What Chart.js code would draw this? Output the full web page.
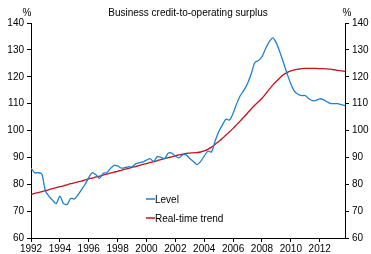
<!DOCTYPE html>
<html lang="en">
<head>
<meta charset="UTF-8">
<title>Business credit-to-operating surplus</title>
<script src="https://cdn.jsdelivr.net/npm/chart.js@4.4.0/dist/chart.umd.min.js"></script>
<style>
  html, body { margin: 0; padding: 0; background: #fff; }
  #wrap { width: 371px; height: 254px; }
</style>
</head>
<body>
<div id="wrap"><canvas id="myChart"></canvas></div>
<script>
// quarterly data, first point = 1992 Q1
const startYear = 1992;
const level = [
  86.0, 84.3, 84.3, 83.8, 77.5, 75.5, 74.0, 72.8,
  75.6, 72.8, 72.5, 74.7, 74.5, 76.0, 78.0, 80.0,
  82.5, 84.3, 83.5, 82.2, 84.1, 84.3, 85.8, 87.0,
  86.8, 86.0, 86.2, 86.5, 86.5, 87.6, 88.0, 88.3,
  89.0, 89.5, 88.5, 90.3, 90.0, 89.6, 91.5, 91.6,
  90.4, 89.8, 90.9, 90.9, 89.6, 88.5, 87.3, 88.5,
  90.5, 92.3, 92.0, 96.0, 99.5, 102.0, 104.2, 103.9,
  106.4, 110.0, 113.0, 115.0, 117.5, 121.0, 125.2, 126.0,
  127.5, 130.5, 133.0, 134.5, 132.5, 129.0, 125.0, 121.0,
  117.3, 114.6, 113.5, 113.0, 113.0, 111.8, 111.1, 111.2,
  111.8, 111.5, 110.7, 110.0, 110.0, 110.0, 109.6, 109.3
];
const trend = [
  76.2, 76.6, 76.9, 77.3, 77.6, 78.0, 78.4, 78.7,
  79.1, 79.4, 79.8, 80.2, 80.5, 80.9, 81.2, 81.6,
  82.0, 82.3, 82.7, 83.0, 83.4, 83.8, 84.1, 84.5,
  84.8, 85.2, 85.6, 85.9, 86.3, 86.6, 87.0, 87.4,
  87.7, 88.1, 88.4, 88.8, 89.2, 89.5, 89.9, 90.2,
  90.6, 90.9, 91.2, 91.5, 91.6, 91.7, 91.8, 92.0,
  92.4, 93.0, 93.8, 94.8, 95.9, 97.0, 98.3, 99.5,
  100.8, 102.2, 103.6, 105.0, 106.5, 108.0, 109.4, 110.7,
  112.0, 113.6, 115.3, 116.9, 118.3, 119.6, 120.8, 121.6,
  122.2, 122.6, 122.8, 123.0, 123.1, 123.1, 123.1, 123.1,
  123.0, 123.0, 122.9, 122.8, 122.6, 122.4, 122.2, 122.0
];
const yTicks = [60, 140, 10];      // min, max, step
const xTicks = [1992, 2013.75, 2]; // min, max, step
const titleText = 'Business credit-to-operating surplus';
const unitText = '%';

const FONT = "'Liberation Sans', Arial, sans-serif";
const BLUE = 'rgb(30,128,210)';
const RED = 'rgb(200,16,30)';

function toPoints(arr) {
  return arr.map(function (v, i) { return { x: startYear + i * 0.25, y: v }; });
}

// title, % signs and the legend in the plot
const extras = {
  id: 'extras',
  afterDraw: function (chart) {
    const c = chart.ctx;
    const a = chart.chartArea;
    c.save();
    c.fillStyle = '#000';
    c.font = '10px ' + FONT;
    c.textBaseline = 'middle';
    c.textAlign = 'center';
    c.fillText(titleText, (a.left + a.right) / 2, 13);
    c.fillText(unitText, a.left - 4, 13);
    c.fillText(unitText, a.right + 2, 13);

    c.textAlign = 'left';
    const lx = 146, ly = [199, 218];
    chart.data.datasets.forEach(function (ds, i) {
      c.strokeStyle = ds.borderColor;
      c.lineWidth = 1.5;
      c.beginPath();
      c.moveTo(lx, ly[i]);
      c.lineTo(lx + 9, ly[i]);
      c.stroke();
      c.fillText(ds.label, lx + 9, ly[i] + 1);
    });
    c.restore();
  }
};

function axisY(pos, w) {
  return {
    type: 'linear',
    position: pos,
    min: yTicks[0], max: yTicks[1],
    afterFit: function (s) { s.width = w; },
    ticks: { stepSize: yTicks[2], color: '#000', font: { family: FONT, size: 10 }, padding: 3 },
    grid: { drawOnChartArea: false, drawTicks: true, tickLength: 4, color: '#000' },
    border: { display: true, color: '#000', width: 1 }
  };
}

const ctx = document.getElementById('myChart').getContext('2d');
const myChart = new Chart(ctx, {
  type: 'line',
  data: {
    datasets: [
      { label: 'Level', data: toPoints(level), borderColor: BLUE, borderWidth: 1.3, pointRadius: 0, tension: 0.25 },
      { label: 'Real-time trend', data: toPoints(trend), borderColor: RED, borderWidth: 1.3, pointRadius: 0, tension: 0.4 }
    ]
  },
  options: {
    responsive: true,
    maintainAspectRatio: false,
    animation: false,
    devicePixelRatio: 1,
    layout: { padding: { top: 23, left: 0, right: 0, bottom: 0 } },
    plugins: { legend: { display: false }, tooltip: { enabled: false }, title: { display: false } },
    scales: {
      x: {
        type: 'linear',
        min: xTicks[0], max: xTicks[1],
        afterFit: function (s) { s.height = 16; },
        ticks: {
          stepSize: xTicks[2], includeBounds: false, maxRotation: 0, autoSkip: false,
          color: '#000', font: { family: FONT, size: 10 }, padding: 1,
          callback: function (v) { return String(v); }
        },
        grid: { drawOnChartArea: false, drawTicks: true, tickLength: 4, color: '#000' },
        border: { display: true, color: '#000', width: 1 }
      },
      y: axisY('left', 31),
      y2: axisY('right', 26)
    }
  },
  plugins: [extras]
});
</script>
</body>
</html>
